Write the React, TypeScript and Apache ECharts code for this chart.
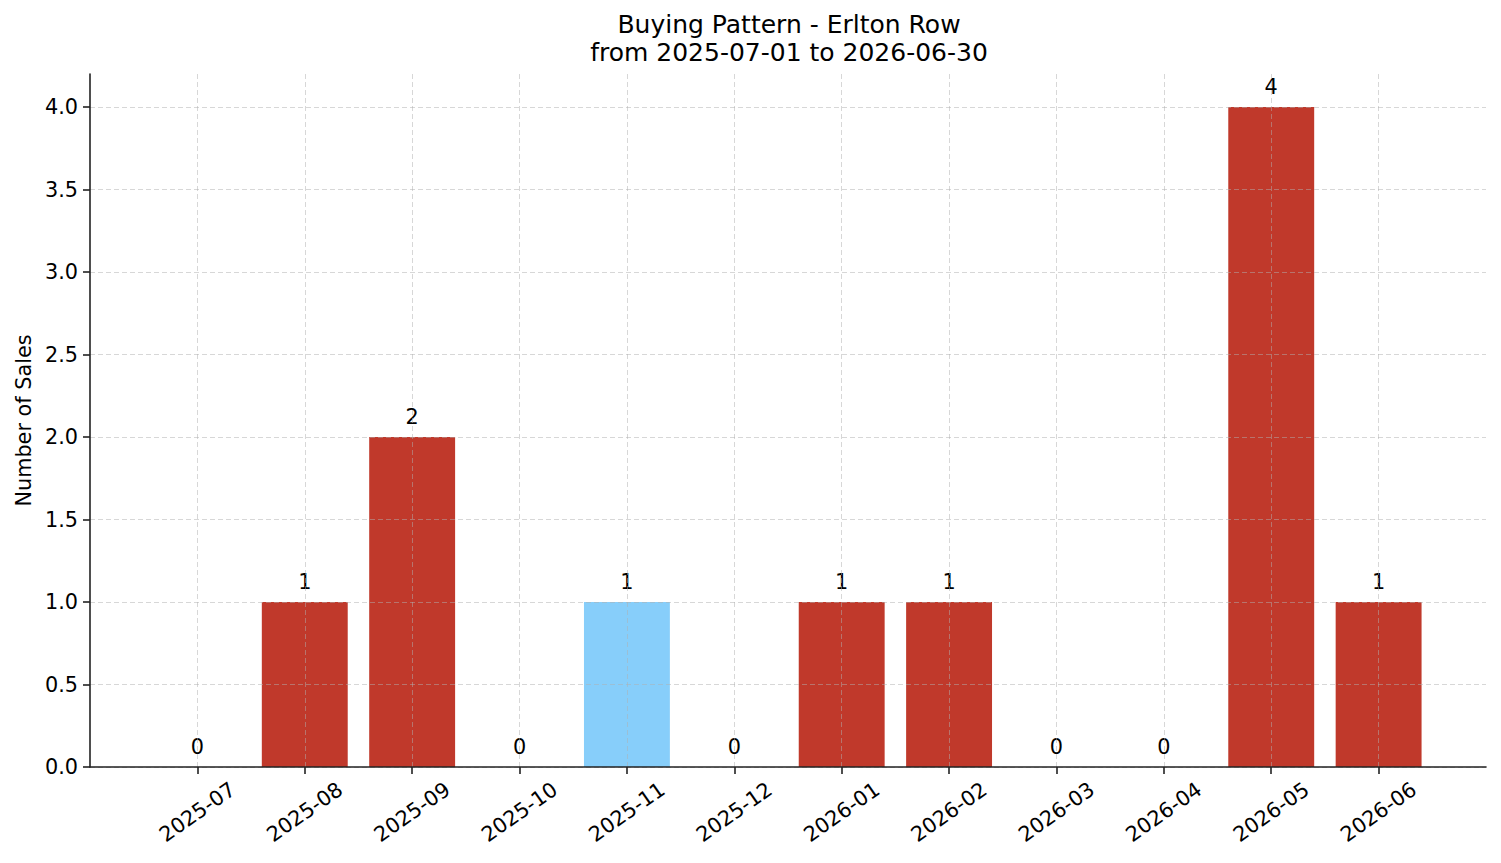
import React, { useEffect, useRef } from "react";
import * as echarts from "echarts";

const months = [
  "2025-07", "2025-08", "2025-09", "2025-10", "2025-11", "2025-12",
  "2026-01", "2026-02", "2026-03", "2026-04", "2026-05", "2026-06",
];
const sales = [0, 1, 2, 0, 1, 0, 1, 1, 0, 0, 4, 1];
const highlightMonth = "2025-11";
const yTicks = [0, 0.5, 1.0, 1.5, 2.0, 2.5, 3.0, 3.5, 4.0];

const FONT = "DejaVu Sans";
const BASE_COLOR = "#C0392B";
const HIGHLIGHT_COLOR = "#87CEFA";
const GRID_COLOR = "rgba(176,176,176,0.5)";

export default function App() {
  const ref = useRef<HTMLDivElement>(null);
  useEffect(() => {
    document.body.style.margin = "0";
    const chart = echarts.init(ref.current!, undefined, { renderer: "svg" });
    const cats = ["", ...months, ""];
    const data = [
      null,
      ...sales.map((v, i) => ({
        value: v,
        itemStyle: { color: months[i] === highlightMonth ? HIGHLIGHT_COLOR : BASE_COLOR },
      })),
      null,
    ];
    const inner = (idx: number) => idx > 0 && idx < cats.length - 1;
    chart.setOption({
      animation: false,
      textStyle: { fontFamily: FONT },
      title: {
        text: "Buying Pattern - Erlton Row\nfrom 2025-07-01 to 2026-06-30",
        left: 784,
        top: 5,
        textAlign: "center",
        textStyle: { fontFamily: FONT, fontSize: 25, fontWeight: "normal", color: "#000", lineHeight: 28 },
      },
      grid: { left: 90, right: 15, top: 74, bottom: 96 },
      xAxis: {
        type: "category",
        data: cats,
        boundaryGap: false,
        z: 3,
        axisLine: { lineStyle: { color: "#222", width: 1.6 } },
        axisTick: { show: true, length: 7, interval: inner, lineStyle: { color: "#222", width: 1.6 } },
        axisLabel: {
          interval: 0,
          rotate: 35,
          align: "center",
          verticalAlign: "middle",
          margin: 45,
          fontSize: 20.8,
          color: "#000",
          fontFamily: FONT,
        },
        splitLine: { show: true, interval: inner, lineStyle: { color: GRID_COLOR, type: [5, 3], width: 1 } },
      },
      yAxis: {
        type: "value",
        min: 0,
        max: 4.2,
        interval: 0.5,
        z: 3,
        name: "Number of Sales",
        nameLocation: "middle",
        nameGap: 56,
        nameTextStyle: { fontSize: 20.8, color: "#000", fontFamily: FONT },
        axisLine: { show: true, lineStyle: { color: "#222", width: 1.6 } },
        axisTick: { show: true, length: 7, customValues: yTicks, lineStyle: { color: "#222", width: 1.6 } },
        axisLabel: {
          customValues: yTicks,
          margin: 12,
          fontSize: 20.8,
          color: "#000",
          fontFamily: FONT,
          formatter: (v: number) => v.toFixed(1),
        },
        splitLine: { show: true, lineStyle: { color: GRID_COLOR, type: [5, 3], width: 1 } },
      },
      series: [
        {
          type: "bar",
          data,
          barWidth: "80%",
          label: {
            show: true,
            position: "top",
            distance: 10,
            fontSize: 20.8,
            color: "#000",
            fontFamily: FONT,
          },
        },
      ],
    });
    return () => chart.dispose();
  }, []);
  return <div ref={ref} style={{ width: 1501, height: 863 }} />;
}
